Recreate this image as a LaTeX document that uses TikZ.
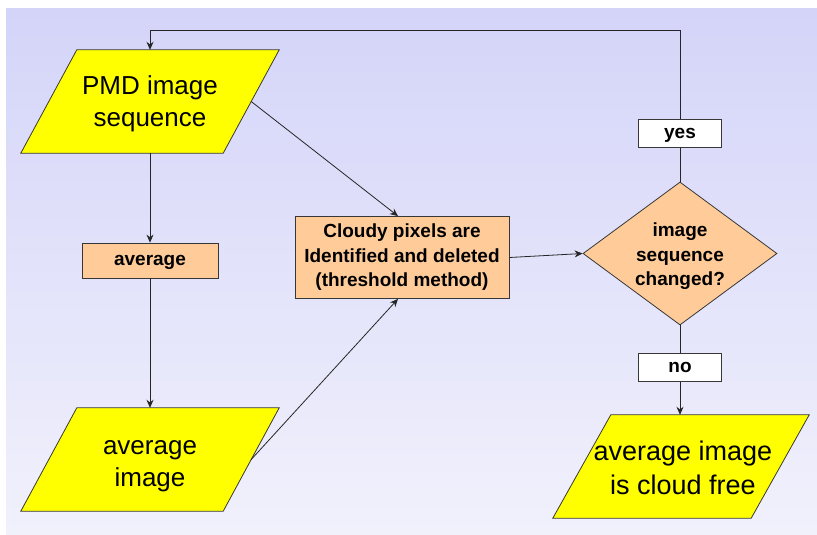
\documentclass[tikz,border=0pt]{standalone}
\usepackage{fontspec}
\setmainfont{Liberation Sans}
\usetikzlibrary{shapes.geometric,arrows.meta}
\definecolor{bgtop}{RGB}{212,212,249}
\definecolor{bgbot}{RGB}{241,241,252}
\definecolor{peach}{RGB}{255,204,153}
\definecolor{ylw}{RGB}{255,255,0}
\definecolor{edge}{RGB}{55,55,55}
\tikzset{
  parabox/.style={rectangle, inner sep=0pt, minimum height=103pt},
  parafill/.style={fill=ylw, draw=edge, line width=0.8pt},
  paratext/.style={inner sep=0pt, align=center, font=\fontsize{26}{32}\selectfont},
  procbox/.style={rectangle, fill=peach, draw=edge, line width=0.8pt, inner sep=0pt,
    align=center, font=\bfseries\fontsize{19}{24.5}\selectfont},
  decis/.style={diamond, aspect=1.357, minimum width=194pt, minimum height=143pt,
    inner sep=0pt, fill=peach, draw=edge, line width=0.8pt},
  bodytext/.style={inner sep=0pt, align=center, font=\bfseries\fontsize{19}{24.5}\selectfont},
  lblbox/.style={rectangle, fill=white, draw=edge, line width=0.8pt, inner sep=0pt,
    minimum width=83pt, minimum height=28pt, text height=13pt, text depth=3pt,
    font=\bfseries\fontsize{19}{22}\selectfont},
  conn/.style={draw=black!85, line width=0.8pt},
  arr/.style={conn, -{Stealth[length=8pt,width=7pt]}}
}
\newcommand\myparal[2]{\draw[parafill] ([xshift=-#2]#1.south west) -- ([xshift=-#2]#1.south east) -- ([xshift=#2]#1.north east) -- ([xshift=#2]#1.north west) -- cycle;}
\begin{document}
\begin{tikzpicture}[x=1pt,y=-1pt]
\useasboundingbox (0,0) rectangle (817,535);
\fill[white] (0,0) rectangle (817,535);
\shade[top color=bgtop, bottom color=bgbot] (6,9) rectangle (817,535);

% parallelogram frames
\node[parabox, minimum width=202pt] (pmd) at (150,101.5) {};
\myparal{pmd}{28pt}
\node[paratext] (pmdtxt) at (150,104) {PMD image\\sequence};

\node[parabox, minimum width=202pt] (avgimg) at (150,459.5) {};
\myparal{avgimg}{28pt}
\node[paratext] (avgimgtxt) at (150,466) {average\\image};

\node[parabox, minimum width=198pt] (final) at (681,466.5) {};
\myparal{final}{29pt}
\node[paratext, font=\fontsize{27}{34}\selectfont] (finaltxt) at (683,468) {average image\\is cloud free};

% process boxes
\node[procbox, minimum width=136pt, minimum height=35pt, text height=12.5pt, text depth=3pt] (avg) at (150,260.5) {average};
\node[procbox, minimum width=214pt, minimum height=82pt] (mid) at (402,257.5)
  {Cloudy pixels are\\Identified and deleted\\(threshold method)};
\node[decis] (dia) at (680,253.5) {};
\node[bodytext] (diatxt) at (680,256.5) {image\\sequence\\changed?};
\node[lblbox] (yes) at (680,133) {yes};
\node[lblbox] (no) at (680,367.5) {no};
\coordinate (topturn) at (680,30);

\draw[arr] (pmd.south) -- (avg.north);
\draw[arr] (avg.south) -- (avgimg.north);
\draw[arr] (pmd.east) -- ([xshift=-4pt]mid.north);
\draw[arr] (avgimg.east) -- ([xshift=-4pt]mid.south);
\draw[arr] (mid.east) -- (dia.west);
\draw[conn] (dia.north) -- (yes.south);
\draw[arr] (yes.north) -- (topturn) -| (pmd.north);
\draw[conn] (dia.south) -- (no.north);
\draw[arr] (no.south) -- (no.south |- final.north);
\end{tikzpicture}
\end{document}
